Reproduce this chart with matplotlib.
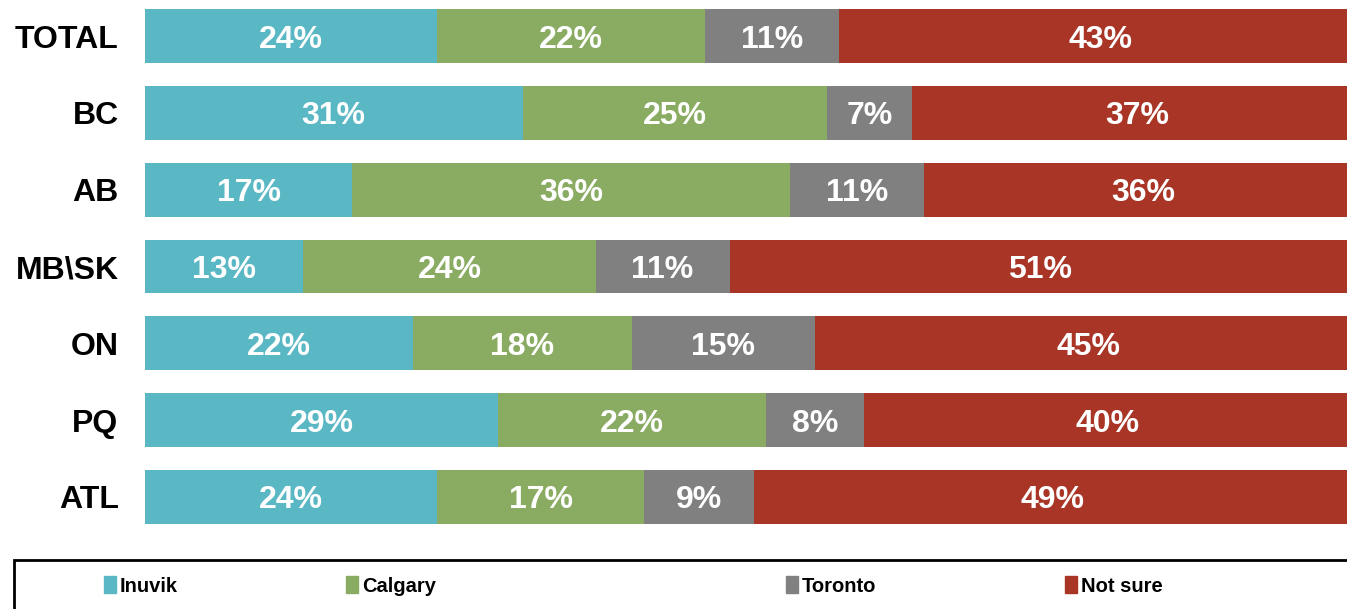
import matplotlib
matplotlib.use("Agg")
import matplotlib.pyplot as plt
from matplotlib.patches import Rectangle
import numpy as np

regions = ["TOTAL", "BC", "AB", "MB\\SK", "ON", "PQ", "ATL"]
series = ["Inuvik", "Calgary", "Toronto", "Not sure"]
inuvik = [24, 31, 17, 13, 22, 29, 24]
calgary = [22, 25, 36, 24, 18, 22, 17]
toronto = [11, 7, 11, 11, 15, 8, 9]
not_sure = [43, 37, 36, 51, 45, 40, 49]

colors = ["#5AB8C5", "#8AAC62", "#808080", "#A93526"]
legend_x = [104, 346, 786, 1065]  # pixel positions of legend squares

W, H = 1347, 609
fig = plt.figure(figsize=(W / 100, H / 100), dpi=100)
ax = fig.add_axes([145 / W, (H - 540) / H, (W - 145) / W, 540 / H])

y = np.arange(len(regions))
left = np.zeros(len(regions))
for vals, c in zip([inuvik, calgary, toronto, not_sure], colors):
    vals = np.array(vals, dtype=float)
    ax.barh(y, vals, left=left, height=0.70, color=c, edgecolor="none")
    for yi, l, v in zip(y, left, vals):
        ax.text(l + v / 2, yi, f"{v:.0f}%", ha="center", va="center_baseline",
                color="white", fontsize=23, fontweight="bold",
                family="Liberation Sans")
    left += vals

ax.set_xlim(0, 98.7)
ax.set_ylim(6.56, -0.469)
ax.set_yticks(y)
ax.set_yticklabels(regions, fontsize=23, fontweight="bold", family="Liberation Sans")
ax.tick_params(axis="y", length=0, pad=19)
ax.set_xticks([])
for s in ax.spines.values():
    s.set_visible(False)

# legend box, cropped by the right and bottom edges like the original
fig.patches.append(Rectangle((14 / W, -0.1), 1.2, (H - 560) / H + 0.1,
                             transform=fig.transFigure, fill=False,
                             edgecolor="black", linewidth=2))
for name, c, px in zip(series, colors, legend_x):
    fig.patches.append(Rectangle((px / W, (H - 593) / H), 12 / W, 17 / H,
                                 transform=fig.transFigure, color=c))
    fig.text((px + 16) / W, (H - 585) / H, name, ha="left", va="center_baseline",
             fontsize=14.5, fontweight="bold", family="Liberation Sans")

fig.savefig("out.png", dpi=100)
